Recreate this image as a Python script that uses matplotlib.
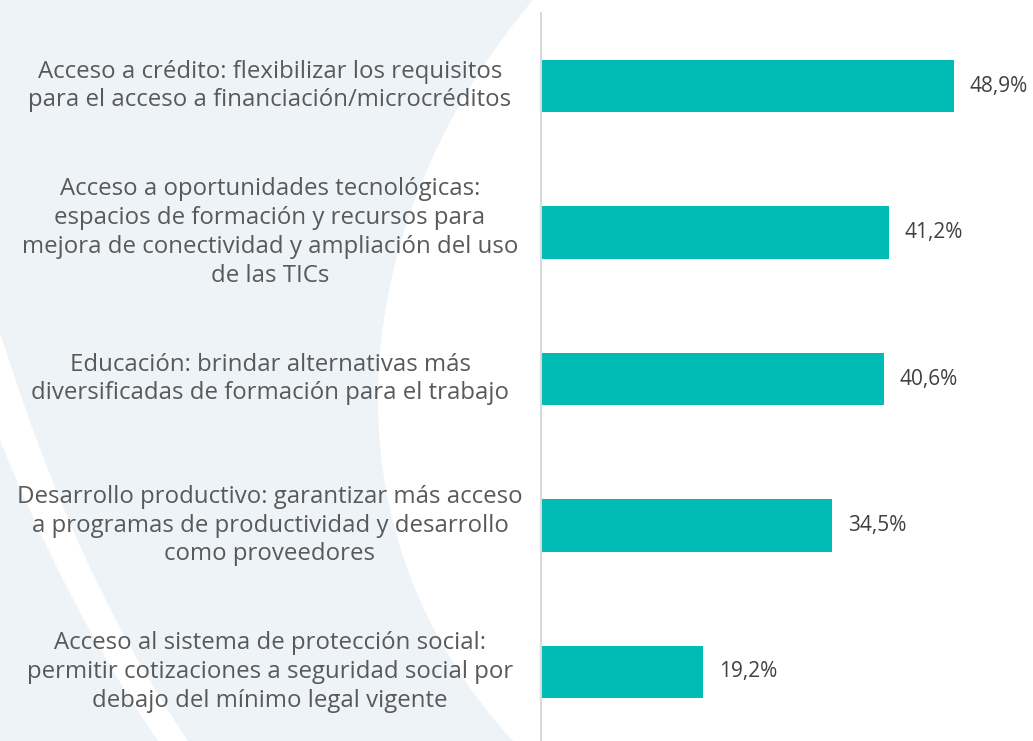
import matplotlib
matplotlib.use("Agg")
import matplotlib.pyplot as plt
from matplotlib.path import Path
from matplotlib.patches import PathPatch
from matplotlib.transforms import blended_transform_factory

categories = [
    "Acceso a crédito: flexibilizar los requisitos\npara el acceso a financiación/microcréditos",
    "Acceso a oportunidades tecnológicas:\nespacios de formación y recursos para\nmejora de conectividad y ampliación del uso\nde las TICs",
    "Educación: brindar alternativas más\ndiversificadas de formación para el trabajo",
    "Desarrollo productivo: garantizar más acceso\na programas de productividad y desarrollo\ncomo proveedores",
    "Acceso al sistema de protección social:\npermitir cotizaciones a seguridad social por\ndebajo del mínimo legal vigente",
]
values = [48.9, 41.2, 40.6, 34.5, 19.2]
value_labels = ["48,9%", "41,2%", "40,6%", "34,5%", "19,2%"]

W, H = 1033, 741
fig = plt.figure(figsize=(W / 100, H / 100), dpi=100)
fig.patch.set_facecolor("white")

# Decorative background (pixel coordinates)
bg = fig.add_axes([0, 0, 1, 1], zorder=0)
bg.set_xlim(0, W)
bg.set_ylim(H, 0)
bg.axis("off")
light = "#eef3f8"
verts = [(0, 0), (533, 0),
         (440, 110), (378, 250), (378, 400),
         (378, 520), (420, 640), (513, 741),
         (0, 741), (0, 0)]
codes = [Path.MOVETO, Path.LINETO,
         Path.CURVE4, Path.CURVE4, Path.CURVE4,
         Path.CURVE4, Path.CURVE4, Path.CURVE4,
         Path.LINETO, Path.CLOSEPOLY]
bg.add_patch(PathPatch(Path(verts, codes), facecolor=light, edgecolor="none"))
# white curved stripe
sverts = [(0, 335), (4, 345),
          (60, 520), (120, 640), (188, 741),
          (158, 741),
          (95, 650), (40, 540), (0, 440),
          (0, 335)]
scodes = [Path.MOVETO, Path.LINETO,
          Path.CURVE4, Path.CURVE4, Path.CURVE4,
          Path.LINETO,
          Path.CURVE4, Path.CURVE4, Path.CURVE4,
          Path.CLOSEPOLY]
bg.add_patch(PathPatch(Path(sverts, scodes), facecolor="white", edgecolor="none"))

# Main axes
left_px = 540.5
top_px = 12.75
row_px = 146.5
n = len(values)
ax_h = n * row_px
ax = fig.add_axes([left_px / W, (H - top_px - ax_h) / H, (W - left_px) / W, ax_h / H], zorder=1)
ax.patch.set_alpha(0)
ypos = list(range(n))
ax.barh(ypos, values, height=0.355, color="#00bcb4")
ax.set_ylim(n - 0.5, -0.5)
ax.set_xlim(0, (W - left_px) / 8.45)
for s in ["top", "right", "bottom"]:
    ax.spines[s].set_visible(False)
ax.spines["left"].set_color("#d9d9d9")
ax.spines["left"].set_linewidth(1.5)
ax.set_xticks([])
ax.set_yticks([])

for y, v, lab in zip(ypos, values, value_labels):
    ax.annotate(lab, (v, y), xytext=(11.5, 0), textcoords="offset points",
                va="center", ha="left", fontsize=15, color="#404040",
                family="Open Sans")

tr = blended_transform_factory(fig.transFigure, ax.transData)
for y, c in zip(ypos, categories):
    ax.text(270 / W, y, c, transform=tr, ha="center", va="center",
            multialignment="center", fontsize=17.3, color="#595959",
            family="Open Sans", linespacing=1.26)

fig.savefig("out.png", dpi=100, facecolor="white")
